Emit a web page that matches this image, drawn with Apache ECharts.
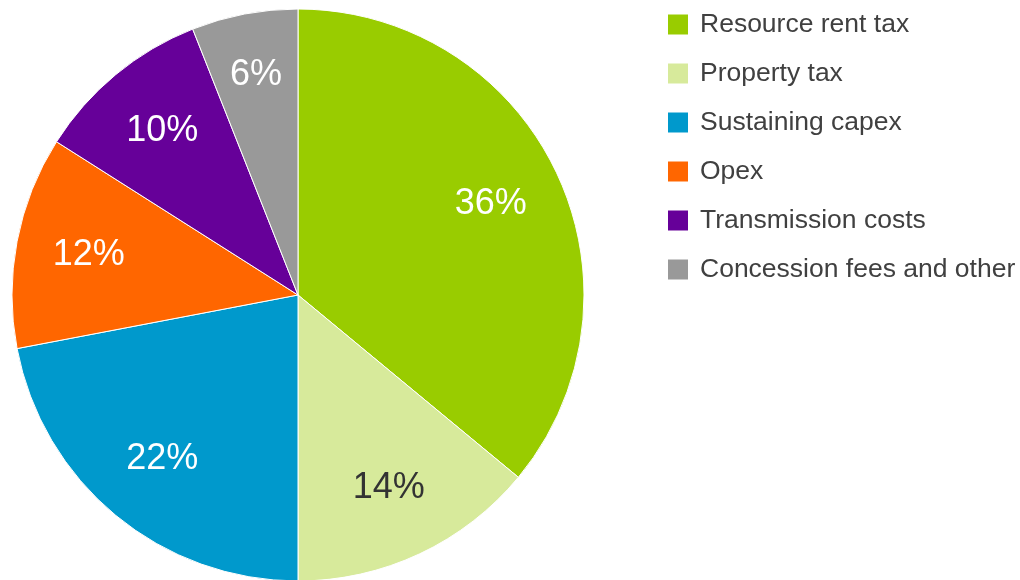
<!DOCTYPE html>
<html>
<head>
<meta charset="utf-8">
<style>
  html, body { margin: 0; padding: 0; background: #ffffff; }
  #chart { width: 1020px; height: 580px; }
</style>
<script src="https://cdn.jsdelivr.net/npm/echarts@6/dist/echarts.min.js"></script>
</head>
<body>
<div id="chart"></div>
<script>
// Cost breakdown, shares in percent
const categories = [
  'Resource rent tax',
  'Property tax',
  'Sustaining capex',
  'Opex',
  'Transmission costs',
  'Concession fees and other'
];
const shares = [36, 14, 22, 12, 10, 6];
const sliceColors = ['#99cc00', '#d7ea9b', '#0099cc', '#ff6600', '#660099', '#999999'];
const labelColors = ['#ffffff', '#333333', '#ffffff', '#ffffff', '#ffffff', '#ffffff'];

const FONT = '"Liberation Sans", Arial, Helvetica, sans-serif';
const CENTER = [298, 295];
const RADIUS = 286;

const pieData = categories.map((name, i) => ({
  name: name,
  value: shares[i],
  itemStyle: { color: sliceColors[i] }
}));

// Transparent ring that carries the percentage labels further out than the middle of each slice
const labelData = categories.map((name, i) => ({
  name: name,
  value: shares[i],
  label: { color: labelColors[i] }
}));

const chart = echarts.init(document.getElementById('chart'), null, { renderer: 'canvas' });

chart.setOption({
  animation: false,
  backgroundColor: '#ffffff',
  textStyle: { fontFamily: FONT },
  legend: {
    orient: 'vertical',
    left: 668,
    top: 11,
    padding: 0,
    itemWidth: 20,
    itemHeight: 20,
    itemGap: 22,
    icon: 'rect',
    selectedMode: false,
    itemStyle: { borderWidth: 0 },
    data: categories,
    textStyle: {
      fontFamily: FONT,
      fontSize: 26.5,
      color: '#404040',
      padding: [0, 0, 0, 7]
    }
  },
  series: [
    {
      type: 'pie',
      center: CENTER,
      radius: [0, RADIUS],
      startAngle: 90,
      clockwise: true,
      silent: true,
      label: { show: false },
      labelLine: { show: false },
      itemStyle: { borderColor: '#ffffff', borderWidth: 1 },
      emphasis: { disabled: true },
      data: pieData
    },
    {
      type: 'pie',
      center: CENTER,
      radius: [134, RADIUS],
      startAngle: 90,
      clockwise: true,
      silent: true,
      itemStyle: { color: 'rgba(0,0,0,0)', borderWidth: 0 },
      label: {
        show: true,
        position: 'inside',
        formatter: '{c}%',
        fontFamily: FONT,
        fontSize: 36
      },
      labelLine: { show: false },
      labelLayout: function (params) {
        // the thin last slice gets its label pushed a little outward
        if (params.dataIndex === categories.length - 1) {
          return { dx: -2, dy: -11 };
        }
        return {};
      },
      emphasis: { disabled: true },
      data: labelData
    }
  ]
});
</script>
</body>
</html>
